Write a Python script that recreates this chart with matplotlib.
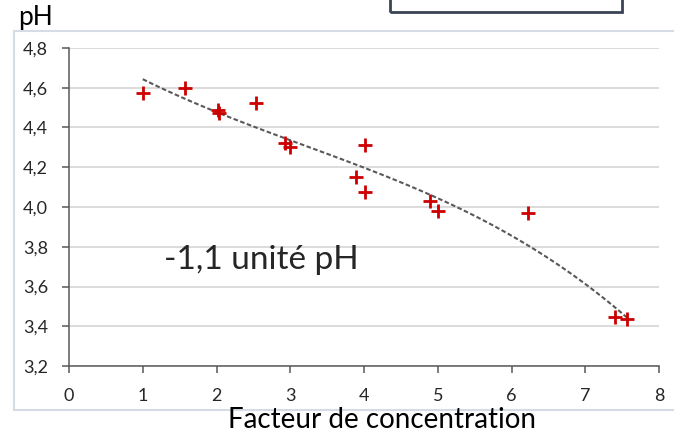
import numpy as np
import matplotlib
matplotlib.use("Agg")
import matplotlib.pyplot as plt
from matplotlib.lines import Line2D
from matplotlib.patches import Rectangle

plt.rcParams['font.family'] = ['Lato', 'DejaVu Sans']

# facteur de concentration / pH
facteur = [1.0, 1.57, 2.02, 2.03, 2.54, 2.93, 3.0, 3.89, 4.02, 4.01, 4.9, 5.0, 6.22, 7.4, 7.57]
ph = [4.575, 4.60, 4.49, 4.473, 4.522, 4.32, 4.30, 4.15, 4.076, 4.31, 4.028, 3.978, 3.97, 3.447, 3.434]

xticks = [0, 1, 2, 3, 4, 5, 6, 7, 8]
yticks = [3.2, 3.4, 3.6, 3.8, 4.0, 4.2, 4.4, 4.6, 4.8]
ylabels = ['3,2', '3,4', '3,6', '3,8', '4,0', '4,2', '4,4', '4,6', '4,8']

fig = plt.figure(figsize=(6.74, 4.34), dpi=100)
ax = fig.add_axes([69/674, 1-366/434, 590/674, 318/434])

ax.set_xlim(0, 8)
ax.set_ylim(3.2, 4.8)
ax.set_xticks(xticks)
ax.set_yticks(yticks)
ax.set_yticklabels(ylabels)
ax.grid(axis='y', color='#d9d9d9', lw=1.3)
ax.set_axisbelow(True)
for s in ['top', 'right']:
    ax.spines[s].set_visible(False)
for s in ['left', 'bottom']:
    ax.spines[s].set_color('#595959')
    ax.spines[s].set_linewidth(1.1)
ax.tick_params(axis='both', colors='#595959', length=5, width=1.1, labelsize=13,
               labelcolor='#262626')
ax.tick_params(axis='x', pad=11)
ax.tick_params(axis='y', pad=10)

# courbe de tendance polynomiale (ordre 3)
coef = np.polyfit(facteur, ph, 3)
xs = np.linspace(min(facteur), max(facteur), 100)
ax.plot(xs, np.polyval(coef, xs), color='#595959', lw=1.5, ls=(0, (2.2, 1.2)))

ax.plot(facteur, ph, ls='none', marker='+', ms=10, mew=2, color='#cc0000')

ax.text(1.29, 3.69, '-1,1 unité pH', fontsize=24, color='#262626', va='baseline')

fig.text(18/674, 1-25/434, 'pH', fontsize=19, color='#000000', va='baseline')
fig.text(382/674, 1-428/434, 'Facteur de concentration', fontsize=20,
         ha='center', va='baseline', color='#000000')

# cadre autour du graphique
bc = '#d6dce5'
fig.add_artist(Line2D([14/674, 1], [1-31/434]*2, color=bc, lw=1.5))
fig.add_artist(Line2D([14/674]*2, [1-31/434, 1-410/434], color=bc, lw=1.5))
fig.add_artist(Line2D([14/674, 1], [1-410/434]*2, color=bc, lw=1.5))

# boite coupee en haut
fig.add_artist(Rectangle((390/674, 1-12/434), 232/674, 0.1, fill=False,
                         edgecolor='#3b4456', lw=2, transform=fig.transFigure))

fig.savefig('out.png', dpi=100)
